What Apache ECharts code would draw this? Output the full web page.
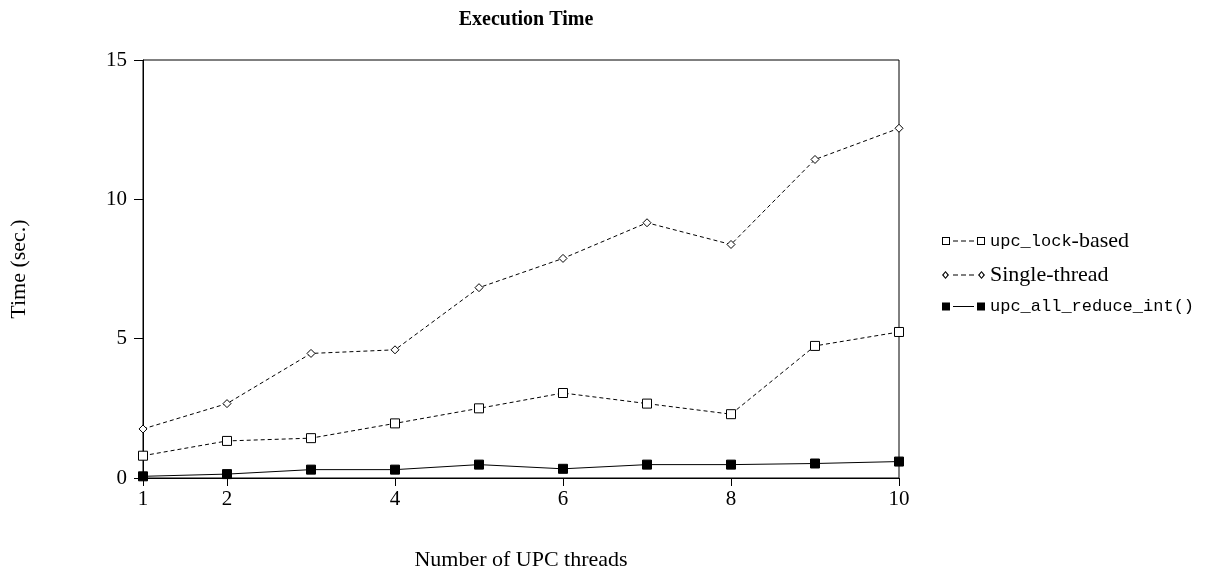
<!DOCTYPE html>
<html>
<head>
<meta charset="utf-8">
<style>
  html, body { margin: 0; padding: 0; background: #fff; }
  #chart { width: 1207px; height: 576px; }
</style>
<script src="https://cdn.jsdelivr.net/npm/echarts@6/dist/echarts.min.js"></script>
</head>
<body>
<div id="chart"></div>
<script>
// values
const threads = [1, 2, 3, 4, 5, 6, 7, 8, 9, 10];
const lockBased = [0.80, 1.33, 1.43, 1.96, 2.50, 3.05, 2.67, 2.29, 4.74, 5.24];
const singleThread = [1.76, 2.67, 4.47, 4.60, 6.83, 7.88, 9.16, 8.38, 11.43, 12.55];
const allReduce = [0.06, 0.14, 0.30, 0.30, 0.48, 0.33, 0.48, 0.48, 0.52, 0.59];
const xTicks = [1, 2, 4, 6, 8, 10];
const seriesNames = ['upc_lock-based', 'Single-thread', 'upc_all_reduce_int()'];

const serif = '"Liberation Serif", "DejaVu Serif", serif';
const mono = '"Liberation Mono", "DejaVu Sans Mono", monospace';

// legend keys drawn like the original: marker, line, marker
const dashes = 'M11 3.5H16V4.5H11Z M19 3.5H24V4.5H19Z M27 3.5H32V4.5H27Z';
const hollowSq = 'M0 0H8V8H0Z M1 1V7H7V1Z M35 0H43V8H35Z M36 1V7H42V1Z';
const hollowDia = 'M3.5 0L7 4L3.5 8L0 4Z M3.5 1.6L1.6 4L3.5 6.4L5.4 4Z ' +
  'M39.5 0L43 4L39.5 8L36 4Z M39.5 1.6L37.6 4L39.5 6.4L41.4 4Z';
const solidSq = 'M0 0H8V8H0Z M35 0H43V8H35Z M11 3.5H32V4.5H11Z';
const legendIcons = [
  'path://' + hollowSq + ' ' + dashes,
  'path://' + hollowDia + ' ' + dashes,
  'path://' + solidSq
];

function pairs(ys) {
  return threads.map((x, i) => [x, ys[i]]);
}

function lineSeries(name, ys, symbol, size, filled, dashed) {
  return {
    name: name,
    type: 'line',
    data: pairs(ys),
    symbol: symbol,
    symbolSize: size,
    showAllSymbol: true,
    z: 3,
    lineStyle: { color: '#000', width: 1, type: dashed ? [4, 3] : 'solid' },
    itemStyle: { color: filled ? '#000' : '#fff', borderColor: '#000', borderWidth: 1 },
    emphasis: { disabled: true }
  };
}

const chart = echarts.init(document.getElementById('chart'));
chart.setOption({
  animation: false,
  title: {
    text: 'Execution Time',
    left: 521,
    textAlign: 'center',
    top: 5,
    textStyle: { fontFamily: serif, fontSize: 20, fontWeight: 'bold', color: '#000' }
  },
  legend: {
    orient: 'vertical',
    left: 937,
    top: 225,
    itemGap: 12,
    itemWidth: 43,
    itemHeight: 8,
    data: seriesNames.map((n, i) => ({
      name: n,
      icon: legendIcons[i],
      itemStyle: { color: '#000', borderWidth: 0 }
    })),
    formatter: function(name) {
      if (name === 'upc_lock-based') return '{m|upc_lock}{s|-based}';
      if (name === 'Single-thread') return '{s|Single-thread}';
      return '{m|' + name + '}';
    },
    textStyle: {
      color: '#000',
      rich: {
        m: { fontFamily: mono, fontSize: 17, color: '#000' },
        s: { fontFamily: serif, fontSize: 22, color: '#000' }
      }
    }
  },
  grid: {
    left: 143,
    right: 308,
    top: 60,
    bottom: 93,
    show: true,
    borderColor: '#000',
    borderWidth: 1,
    containLabel: false
  },
  xAxis: {
    type: 'value',
    min: 1,
    max: 10,
    name: 'Number of UPC threads',
    nameLocation: 'middle',
    nameGap: 71,
    nameTextStyle: { fontFamily: serif, fontSize: 22, color: '#000' },
    axisLine: { show: true, lineStyle: { color: '#000', width: 1 } },
    axisTick: { show: true, length: 8, customValues: xTicks, lineStyle: { color: '#000' } },
    axisLabel: { customValues: xTicks, margin: 11, fontFamily: serif, fontSize: 21, color: '#000' },
    splitLine: { show: false }
  },
  yAxis: {
    type: 'value',
    min: 0,
    max: 15,
    interval: 5,
    name: 'Time (sec.)',
    nameLocation: 'middle',
    nameGap: 113,
    nameRotate: 90,
    nameTextStyle: { fontFamily: serif, fontSize: 22, color: '#000' },
    axisLine: { show: true, lineStyle: { color: '#000', width: 1 } },
    axisTick: { show: true, length: 9, lineStyle: { color: '#000' } },
    axisLabel: { margin: 16, fontFamily: serif, fontSize: 21, color: '#000' },
    splitLine: { show: false }
  },
  series: [
    lineSeries(seriesNames[0], lockBased, 'rect', 9, false, true),
    lineSeries(seriesNames[1], singleThread, 'diamond', 8, false, true),
    lineSeries(seriesNames[2], allReduce, 'rect', 9, true, false)
  ]
});
</script>
</body>
</html>
